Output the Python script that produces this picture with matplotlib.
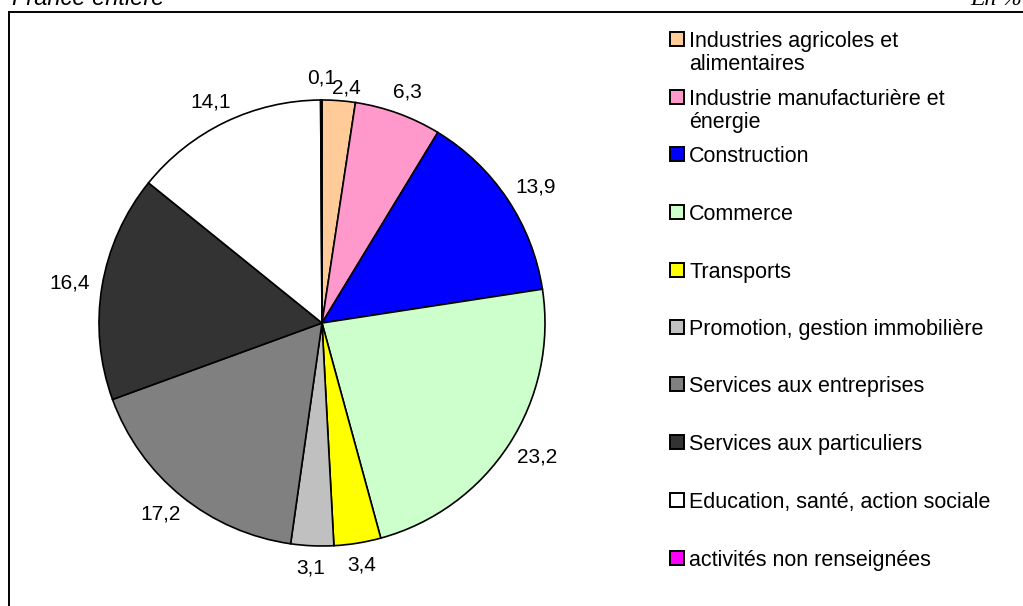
import numpy as np
import matplotlib
matplotlib.use("Agg")
import matplotlib.pyplot as plt
from matplotlib.patches import Rectangle
from matplotlib.lines import Line2D

plt.rcParams['font.family'] = ['Liberation Sans', 'DejaVu Sans']

# Données (en %)
categories = [
    "Industries agricoles et\nalimentaires",
    "Industrie manufacturière et\nénergie",
    "Construction",
    "Commerce",
    "Transports",
    "Promotion, gestion immobilière",
    "Services aux entreprises",
    "Services aux particuliers",
    "Education, santé, action sociale",
    "activités non renseignées",
]
valeurs = [2.4, 6.3, 13.9, 23.2, 3.4, 3.1, 17.2, 16.4, 14.1, 0.1]
couleurs = ['#FFCC99', '#FF99CC', '#0000FF', '#CCFFCC', '#FFFF00',
            '#C0C0C0', '#808080', '#333333', '#FFFFFF', '#FF00FF']

W, H = 1023, 606
fig = plt.figure(figsize=(W / 100, H / 100), dpi=100)


def px(x, y):
    # pixels (origine en haut à gauche) -> coordonnées figure
    return x / W, 1 - y / H


# cadre (bords gauche et haut visibles)
x0, y0 = px(9, 12)
fig.add_artist(Line2D([x0, x0], [y0, 0], color='black', lw=1.4))
fig.add_artist(Line2D([x0, 1], [y0, y0], color='black', lw=1.4))

fig.text(*px(12, 5), "France entière", fontsize=17, style='italic',
         ha='left', va='baseline')
fig.text(*px(970, 5), "En %", fontsize=17, style='italic',
         family=['Liberation Serif'], ha='left', va='baseline')

# camembert
cx, cy, R = 322, 323, 223
ax = fig.add_axes([(cx - R) / W, (H - cy - R) / H, 2 * R / W, 2 * R / H])
wedges, _ = ax.pie(valeurs, colors=couleurs, startangle=90, counterclock=False,
                   radius=1, wedgeprops=dict(edgecolor='black', linewidth=1.2))
ax.set_xlim(-1, 1)
ax.set_ylim(-1, 1)
ax.axis('off')

# étiquettes à l'extérieur, façon Excel (écart fixe au bord du disque)
ecart = 13  # px
# petit décalage (px) pour l'étiquette 2,4 poussée par 0,1
decal = {0: (6, -10)}
textes = []
for w, v in zip(wedges, valeurs):
    t = ax.text(0, 0, f"{v:.1f}".replace('.', ','), ha='center', va='center',
                fontsize=15, clip_on=False)
    textes.append(t)
fig.canvas.draw()
rend = fig.canvas.get_renderer()
for i, (w, t) in enumerate(zip(wedges, textes)):
    a = np.deg2rad((w.theta1 + w.theta2) / 2)
    bb = t.get_window_extent(rend)
    dx, dy = decal.get(i, (0, 0))
    x = (R + ecart) * np.cos(a) + bb.width / 2 * np.cos(a) + dx
    y = (R + ecart) * np.sin(a) + bb.height / 2 * np.sin(a) + dy
    t.set_position((x / R, y / R))

# légende
y_leg = [39, 97, 154, 212, 270, 327, 384, 442, 500, 558]
for lab, c, y in zip(categories, couleurs, y_leg):
    fig.add_artist(Rectangle(px(670, y + 7), 14 / W, 14 / H, facecolor=c,
                             edgecolor='black', lw=1.4))
    for k, ligne in enumerate(lab.split('\n')):
        fig.text(*px(689, y + 8 + 23 * k), ligne, fontsize=15.5,
                 ha='left', va='baseline')

fig.savefig("out.png", dpi=100, facecolor='white')
